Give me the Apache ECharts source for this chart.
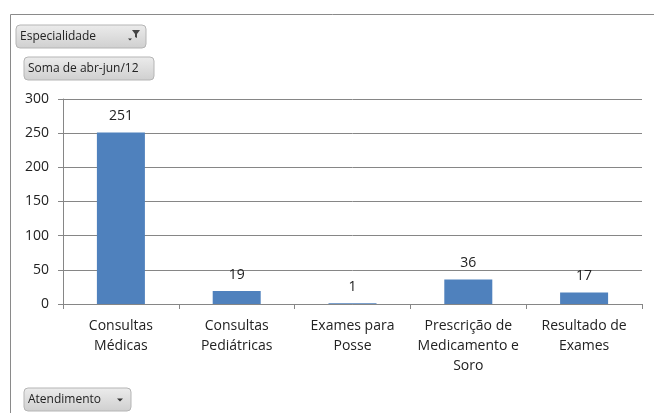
<!DOCTYPE html>
<html><head><meta charset="utf-8">
<script src="https://cdn.jsdelivr.net/npm/echarts@6/dist/echarts.min.js"></script>
<style>html,body{margin:0;padding:0;background:#fff}#c{width:654px;height:413px}</style>
</head><body><div id="c"></div>
<script>
var categories = ['Consultas\nMédicas', 'Consultas\nPediátricas', 'Exames para\nPosse', 'Prescrição de\nMedicamento e\nSoro', 'Resultado de\nExames'];
var values = [251, 19, 1, 36, 17];
var yTicks = [0, 50, 100, 150, 200, 250, 300];

var font = '"Open Sans", "Liberation Sans", sans-serif';
function button(x, y, w, h, text, icon) {
  var els = [{
    type: 'rect', shape: {x: x, y: y, width: w, height: h, r: 4},
    style: {fill: new echarts.graphic.LinearGradient(0,0,0,1,[{offset:0,color:'#ececec'},{offset:1,color:'#cfcfcf'}]), stroke: '#b5b5b5', lineWidth: 1}
  }, {
    type: 'text', style: {x: x + 4, y: y + h/2, text: text, fill: '#222', font: '12px ' + font, verticalAlign: 'middle'}
  }];
  if (icon === 'down') {
    els.push({type: 'polygon', shape: {points: [[x+w-14, y+h/2-1],[x+w-8, y+h/2-1],[x+w-11, y+h/2+2]]}, style: {fill: '#333'}});
  } else if (icon === 'filter') {
    els.push({type: 'polygon', shape: {points: [[x+w-18, y+h/2+2],[x+w-14, y+h/2+2],[x+w-16, y+h/2+4]]}, style: {fill: '#333'}});
    els.push({type: 'polygon', shape: {points: [[x+w-14, y+5],[x+w-6, y+5],[x+w-9, y+9],[x+w-9, y+13],[x+w-11, y+12],[x+w-11, y+9]]}, style: {fill: '#444'}});
  }
  return els;
}
var graphics = [].concat(
  [{type: 'line', shape: {x1: 10.5, y1: 14.5, x2: 654, y2: 14.5}, style: {stroke: '#8a8a8a', lineWidth: 1}},
   {type: 'line', shape: {x1: 10.5, y1: 14.5, x2: 10.5, y2: 413}, style: {stroke: '#8a8a8a', lineWidth: 1}}],
  button(16, 25, 130, 23, 'Especialidade', 'filter'),
  button(24, 57, 130, 23, 'Soma de abr-jun/12'),
  button(24, 388, 107, 23, 'Atendimento', 'down')
);

var chart = echarts.init(document.getElementById('c'));
chart.setOption({
  animation: false,
  grid: {left: 63, right: 12, top: 99, bottom: 109},
  xAxis: {
    type: 'category', data: categories,
    axisLine: {lineStyle: {color: '#868686'}},
    axisTick: {show: true, length: 5, lineStyle: {color: '#868686'}},
    axisLabel: {color: '#222', fontSize: 14, fontFamily: font, lineHeight: 20, margin: 12, interval: 0}
  },
  yAxis: {
    type: 'value', min: 0, max: 300, interval: 50,
    axisLine: {show: true, lineStyle: {color: '#868686'}},
    axisTick: {show: true, length: 5, lineStyle: {color: '#868686'}},
    splitLine: {lineStyle: {color: '#868686'}},
    axisLabel: {color: '#222', fontSize: 14, fontFamily: font, margin: 14}
  },
  series: [{
    type: 'bar', data: values, barWidth: 48,
    itemStyle: {color: '#4F81BD'},
    label: {show: true, position: 'top', distance: 9, color: '#222', fontSize: 14, fontFamily: font}
  }],
  graphic: graphics
});
</script></body></html>
